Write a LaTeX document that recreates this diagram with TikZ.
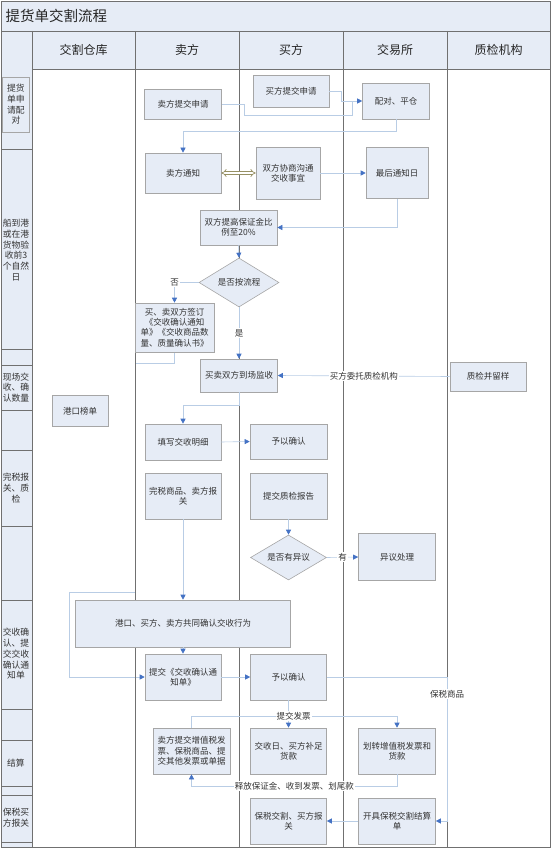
\documentclass[tikz,border=0pt]{standalone}
\usepackage{fontspec}
\setmainfont{Noto Sans CJK SC}
\usetikzlibrary{arrows.meta,shapes.geometric,backgrounds}

\definecolor{boxfill}{RGB}{230,236,246}
\definecolor{boxline}{RGB}{166,166,166}
\definecolor{laneline}{RGB}{112,112,112}
\definecolor{linkline}{RGB}{185,205,229}
\definecolor{tipblue}{RGB}{68,114,196}
\definecolor{pairline}{RGB}{150,144,100}

\begin{document}
\begin{tikzpicture}[x=1pt, y=-1pt,
  wh/.style 2 args={minimum width=#1pt, minimum height=#2pt},
  box/.style={draw=boxline, fill=boxfill, line width=0.6pt, align=center, inner sep=1pt,
              font=\fontsize{8.5}{10.4}\selectfont, text=black!80},
  decide/.style={box, diamond, aspect=2, inner sep=0pt},
  lane/.style={font=\fontsize{12}{14}\selectfont, text=black!85},
  side/.style={font=\fontsize{8.8}{10.7}\selectfont, text=black!80, align=center, inner sep=0pt},
  lbl/.style={font=\fontsize{8.5}{10}\selectfont, text=black!80, fill=white, inner sep=1pt},
  link/.style={draw=linkline, line width=0.6pt},
  arr/.style={link, -{Triangle[length=5pt, width=5pt, color=tipblue]}},
  dbl/.style={draw=pairline, double=white, double distance=2pt, line width=0.7pt, {Implies}-{Implies}}
]
\useasboundingbox (0,0) rectangle (553,850);

\fill[boxfill] (1,1) rectangle (550,31);
\fill[boxfill] (32,31) rectangle (550,69);
\fill[boxfill] (1,31) rectangle (32,847);
\draw[laneline, line width=0.8pt] (1,1) rectangle (550,847);
\draw[laneline, line width=0.8pt] (1,31) -- (550,31);
\draw[laneline, line width=0.8pt] (32,69) -- (550,69);
\foreach \x in {32,135,239,343,447}
  \draw[laneline, line width=0.8pt] (\x,31) -- (\x,847);
\foreach \y in {149,349,365,410,450,526,600,709,740,786,795,842}
  \draw[laneline, line width=0.6pt] (1,\y) -- (32,\y);

\node[anchor=west, font=\fontsize{14.5}{16}\selectfont, text=black!85] (title) at (2,16) {提货单交割流程};
\node[lane] (wh) at (83.5,50) {交割仓库};
\node[lane] (seller) at (187,50) {卖方};
\node[lane] (buyer) at (291,50) {买方};
\node[lane] (exch) at (395,50) {交易所};
\node[lane] (qcorg) at (498.5,50) {质检机构};

\node[box, side, wh={26.6}{55}] (s1) at (16,104.5) {提货\\单申\\请配\\对};
\node[side] (s2) at (16,250) {船到港\\或在港\\货物验\\收前3\\个自然\\日};
\node[side] (s3) at (16,387.5) {现场交\\收、确\\认数量};
\node[side] (s4) at (16,488) {完税报\\关、质\\检};
\node[side] (s5) at (16,654) {交收确\\认、提\\交交收\\确认通\\知单};
\node[side] (s6) at (16,763) {结算};
\node[side] (s7) at (16,818) {保税买\\方报关};

\node[box, wh={77}{30}] (sapp) at (183,104) {卖方提交申请};
\node[box, wh={76}{32}] (bapp) at (291,91.5) {买方提交申请};
\node[box, wh={67}{36}] (pair) at (396,101) {配对、平仓};
\node[box, wh={76}{40}] (notice) at (183,173) {卖方通知};
\node[box, wh={64}{52}] (nego) at (288,173) {双方协商沟通\\交收事宜};
\node[box, wh={62}{51}] (lastday) at (397,173) {最后通知日};
\node[box, wh={77}{35}] (raise) at (238.5,227.5) {双方提高保证金比\\例至20\%};
\node[decide, wh={80}{49}] (q1) at (239,282.5) {是否按流程};
\node[box, wh={79}{49}] (sign) at (174.5,327.5) {买、卖双方签订\\《交收确认通知\\单》《交收商品数\\量、质量确认书》};
\node[box, wh={77}{33}] (inspect) at (239,375.5) {买卖双方到场监收};
\node[box, wh={76}{29}] (qc) at (488,376.5) {质检并留样};
\node[box, wh={56}{31}] (scale) at (80,411) {港口榜单};
\node[box, wh={76}{36}] (fillin) at (183,442) {填写交收明细};
\node[box, wh={77}{35}] (conf1) at (288.5,441.5) {予以确认};
\node[box, wh={76}{46}] (duty) at (183,496) {完税商品、卖方报\\关};
\node[box, wh={77}{46}] (report) at (288.5,496) {提交质检报告};
\node[decide, wh={76}{45}] (q2) at (288.5,557.5) {是否有异议};
\node[box, wh={77}{47}] (objection) at (397,557) {异议处理};
\node[box, wh={215}{47}] (joint) at (183,623.5) {港口、买方、卖方共同确认交收行为};
\node[box, wh={76}{46}] (submit) at (183,677) {提交《交收确认通\\知单》};
\node[box, wh={76}{46}] (conf2) at (288.5,677) {予以确认};
\node[box, wh={77}{46}] (vat) at (191.5,751) {卖方提交增值税发\\票、保税商品、提\\交其他发票或单据};
\node[box, wh={76}{46}] (daypay) at (288.5,751) {交收日、买方补足\\货款};
\node[box, wh={77}{46}] (transfer) at (397,751) {划转增值税发票和\\货款};
\node[box, wh={76}{46}] (customs) at (288.5,821) {保税交割、买方报\\关};
\node[box, wh={77}{46}] (issue) at (397,821) {开具保税交割结算\\单};

\draw[link] (sapp.east) -| (244,115) -| (352,101);
\draw[arr] (bapp.east) -- ++(12,0) |- (pair.west);
\draw[arr] (pair.south) -- ++(0,12) -| (notice.north);
\draw[dbl] (notice.east) -- (nego.west);
\draw[arr] (nego.east) -- (lastday.west);
\draw[arr] (lastday.south) |- (raise.east);
\draw[arr] (raise.south) -- (q1.north);
\draw[arr] (q1.west) -| node[lbl] (nolbl) {否} (sign.north);
\draw[arr] (q1.south) -- node[lbl] (yeslbl) {是} (inspect.north);
\begin{pgfonlayer}{background}
\draw[arr] (sign.south) -- ++(0,11) -| (135,592) -- (69,592) |- (submit.west);
\end{pgfonlayer}
\draw[arr] (qc.west) -- node[lbl] (entrust) {买方委托质检机构} (inspect.east);
\draw[arr] (inspect.south) -- ++(0,13) -| (fillin.north);
\draw[arr] (fillin.east) -- (conf1.west);
\draw[arr] (report.south) -- (q2.north);
\draw[arr] (q2.east) -- node[lbl] (haslbl) {有} (objection.west);
\draw[arr] (duty.south) -- (joint.north);
\draw[arr] (joint.south) -- (submit.north);
\draw[arr] (submit.east) -- (conf2.west);
\draw[arr] (conf2.east) -| node[lbl, pos=0.56] (bonded) {保税商品} (447,821) -- (issue.east);
\draw[link] (conf2.south) -- ++(0,16) coordinate (inv);
\draw[link] (inv) -| (vat.north);
\draw[arr] (inv) -| (transfer.north);
\draw[arr] (inv) -- (daypay.north);
\node[lbl] (invlbl) at ([xshift=5pt]inv) {提交发票};
\draw[arr] (transfer.south) -- ++(0,12) -| node[lbl, pos=0.25] (paylbl) {释放保证金、收到发票、划尾款} (vat.south);
\draw[arr] (issue.west) -- (customs.east);
\end{tikzpicture}
\end{document}
